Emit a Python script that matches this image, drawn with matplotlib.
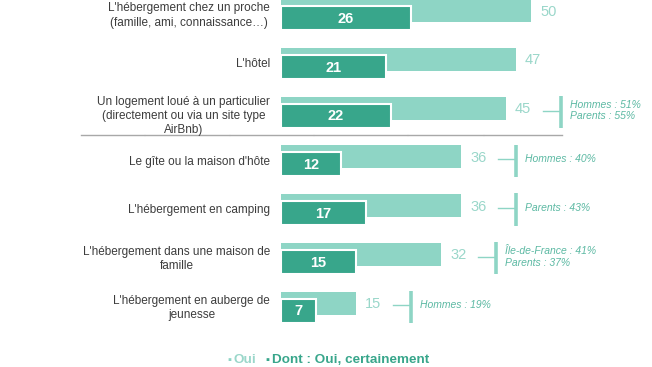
import matplotlib
matplotlib.use('Agg')
import matplotlib.pyplot as plt

categories = [
    "L'hébergement chez un proche\n(famille, ami, connaissance…)",
    "L'hôtel",
    "Un logement loué à un particulier\n(directement ou via un site type\nAirBnb)",
    "Le gîte ou la maison d'hôte",
    "L'hébergement en camping",
    "L'hébergement dans une maison de\nfamille",
    "L'hébergement en auberge de\njeunesse",
]
oui = [50, 47, 45, 36, 36, 32, 15]
certainement = [26, 21, 22, 12, 17, 15, 7]
notes = {
    2: "Hommes : 51%\nParents : 55%",
    3: "Hommes : 40%",
    4: "Parents : 43%",
    5: "Île-de-France : 41%\nParents : 37%",
    6: "Hommes : 19%",
}

LIGHT = '#8ed5c5'
DARK = '#38a68b'
VAL = '#9ad7ca'
NOTE = '#5cb9a3'
FONT = ['Liberation Sans', 'DejaVu Sans']

fig = plt.figure(figsize=(6.52, 3.67), dpi=100)
ax = fig.add_axes([0, 0, 1, 1])
ax.set_xlim(-56.2, 74.2)
ax.set_ylim(7.314, -0.222)
ax.set_axis_off()

rows = range(len(categories))
ax.barh(list(rows), oui, height=0.472, color=LIGHT, lw=0)
ax.barh([i + 0.154 for i in rows], certainement, height=0.493, color=DARK,
        edgecolor='white', lw=1.5)

for i in rows:
    ax.text(oui[i] + 1.8, i + 0.02, str(oui[i]), ha='left', va='center',
            fontsize=10.5, color=VAL, family=FONT)
    ax.text(certainement[i] / 2, i + 0.17, str(certainement[i]), ha='center',
            va='center', fontsize=10.5, color='white', weight='bold', family=FONT)
    nl = categories[i].count('\n')
    ax.text(-2.2, i + (0.16 if nl > 1 else 0.1), categories[i], ha='right',
            va='center', multialignment='center', fontsize=8.5, color='#3c3c3c',
            family=FONT, linespacing=1.27)

# side notes: short tick + vertical bar + italic text
for i, txt in notes.items():
    x0 = oui[i] + 7.3
    ax.plot([x0, x0 + 3.5], [i + 0.05, i + 0.05], color=LIGHT, lw=1)
    ax.plot([x0 + 3.7, x0 + 3.7], [i - 0.25, i + 0.41], color=LIGHT, lw=2.6,
            solid_capstyle='butt')
    ax.text(x0 + 5.5, i + 0.05, txt, ha='left', va='center', fontsize=7.5,
            style='italic', color=NOTE, family=FONT, linespacing=1.2)

# gray separator under the third row
for a, b in [(-40, -27.4), (-27.2, -10.4), (-10.2, 6.4), (6.6, 25.2),
             (25.4, 40.4), (40.6, 56.2)]:
    ax.plot([a, b], [2.55, 2.55], color='#a8a8a8', lw=1)

# legend
ly = 1 - 360 / 367
fig.text(227 / 652, ly, '▪', color=LIGHT, fontsize=8, va='center', family=FONT)
fig.text(234 / 652, ly, 'Oui', color=VAL, fontsize=9.7, va='center',
         weight='bold', family=FONT)
fig.text(265 / 652, ly, '▪', color=DARK, fontsize=8, va='center', family=FONT)
fig.text(272 / 652, ly, 'Dont : Oui, certainement', color=DARK,
         fontsize=9.7, va='center', weight='bold', family=FONT)

fig.savefig('out.png', dpi=100)
